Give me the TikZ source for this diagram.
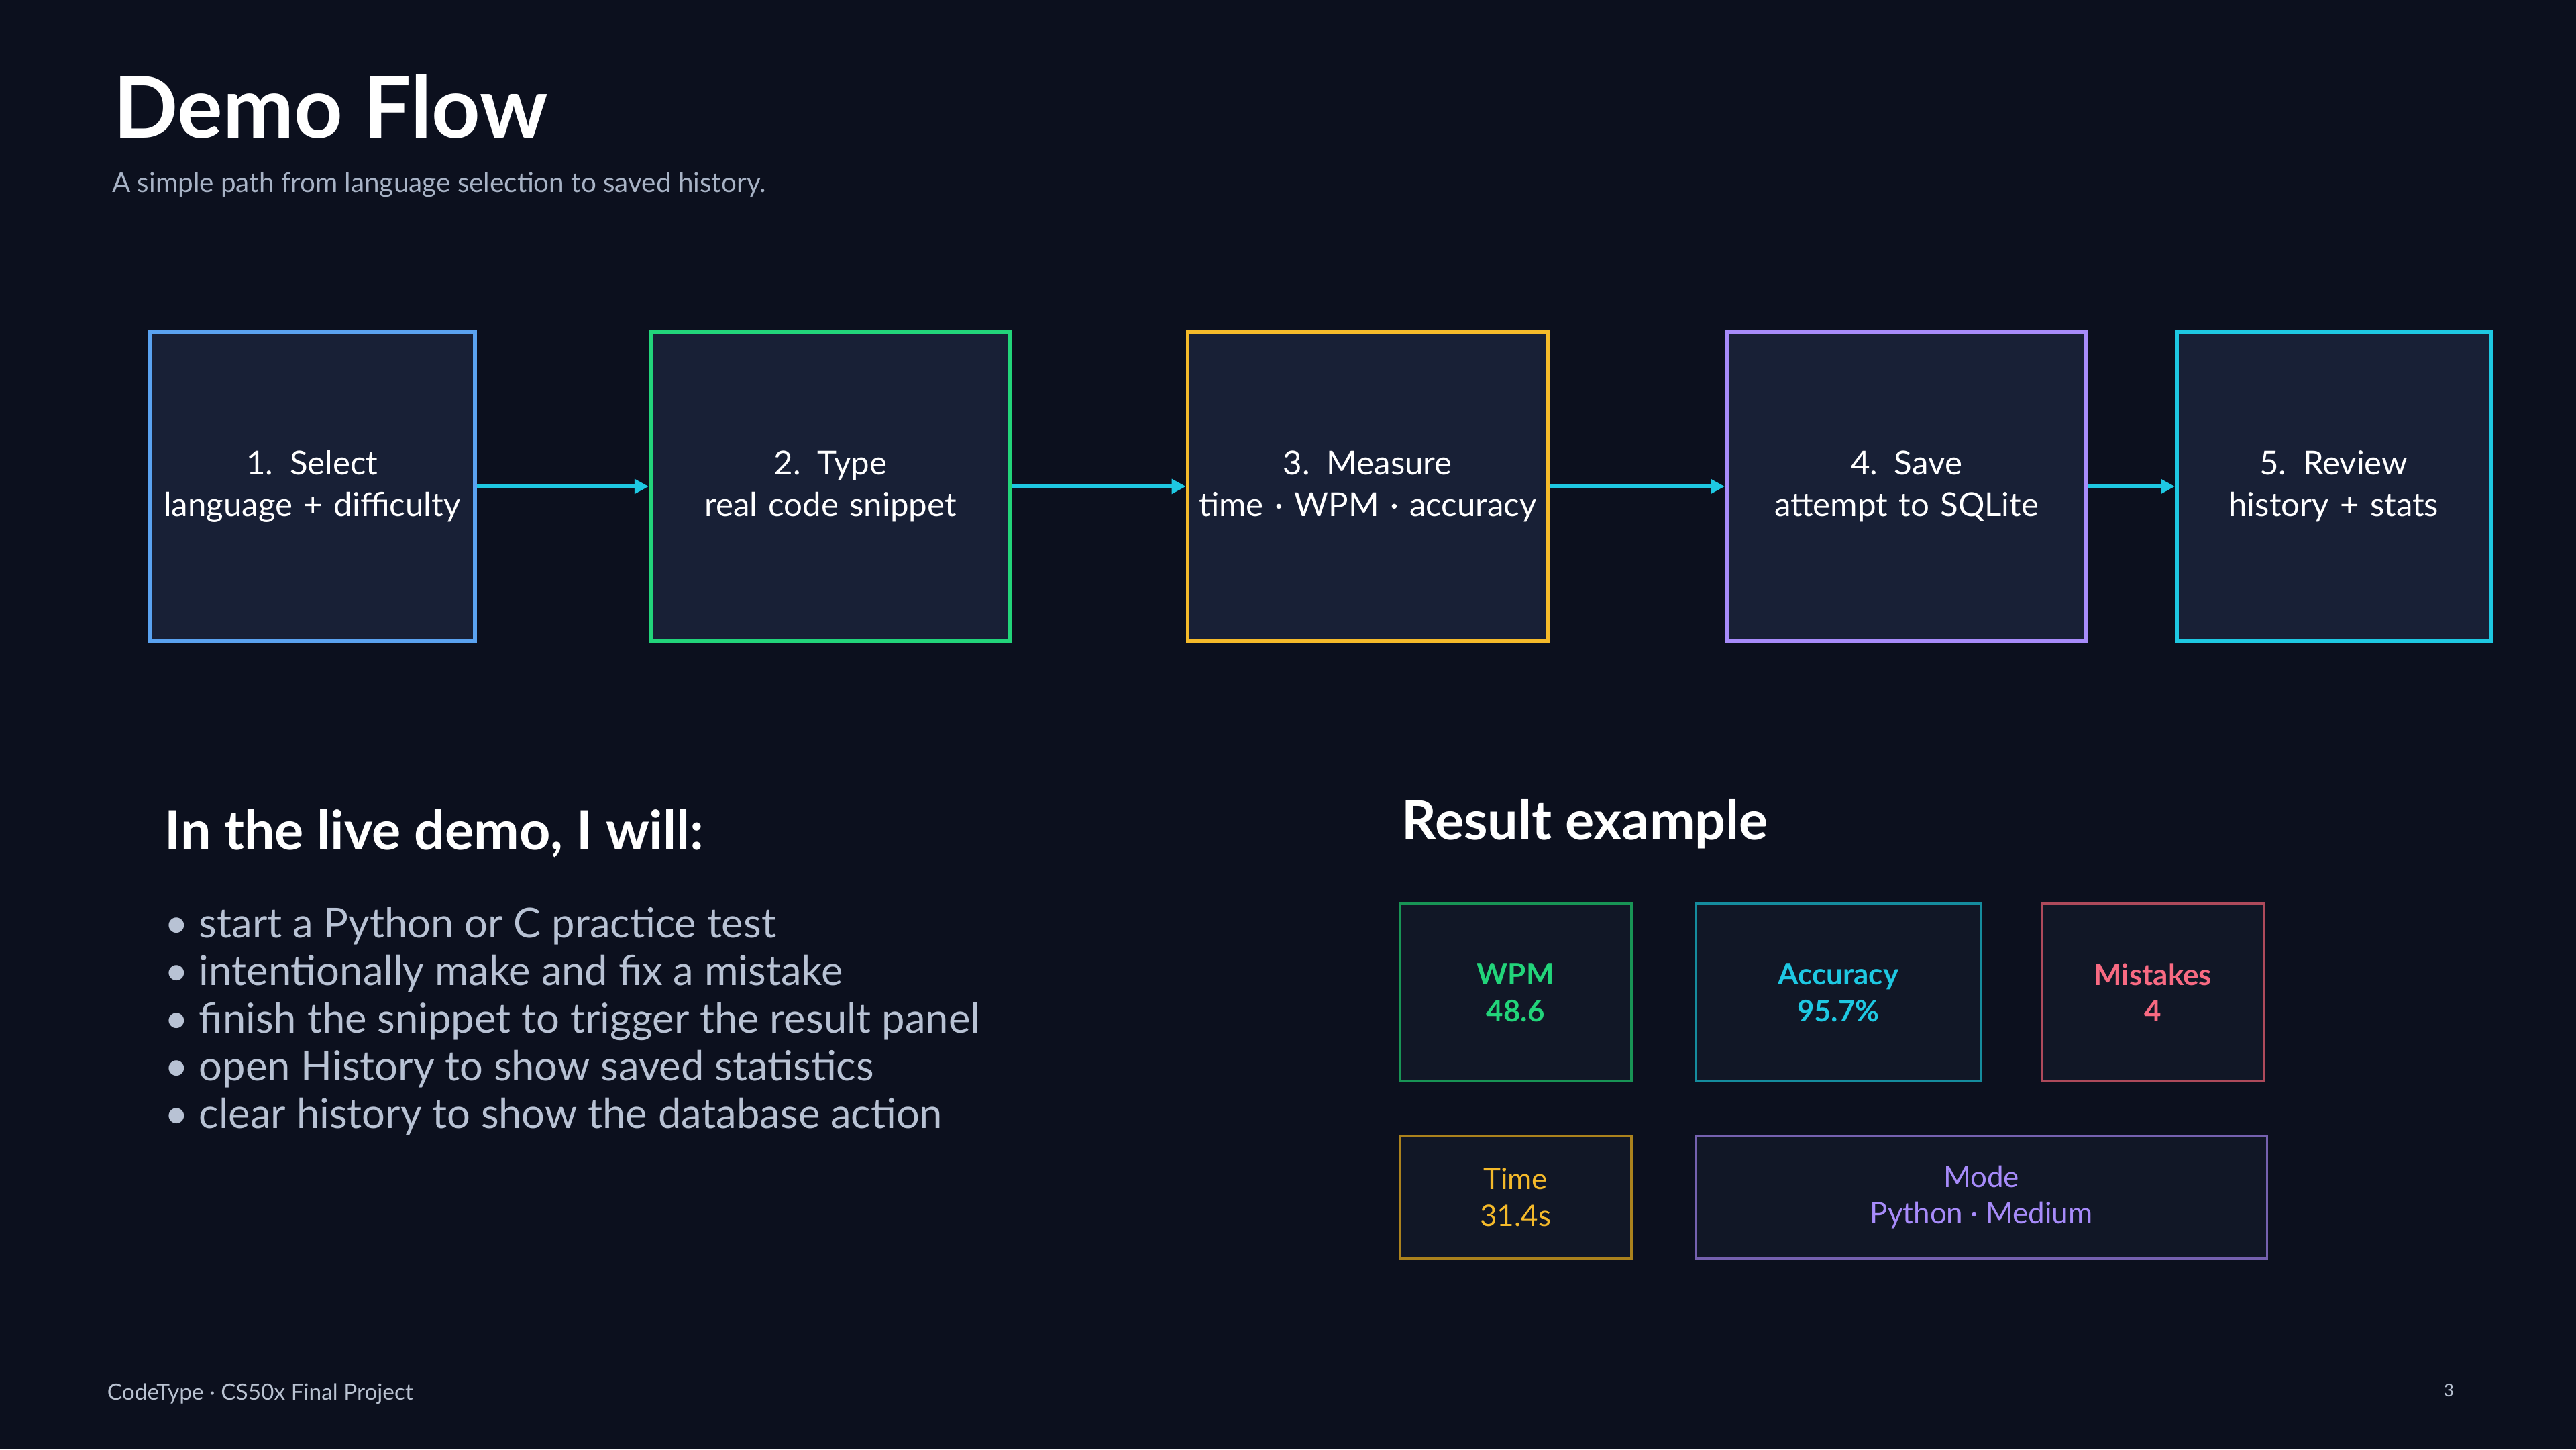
\documentclass[tikz,border=0pt]{standalone}
\usepackage{fontspec}
\setmainfont{Lato}
\usetikzlibrary{arrows.meta,positioning}
\definecolor{bgc}{HTML}{0C101E}
\definecolor{boxfill}{HTML}{182036}
\definecolor{statfill}{HTML}{111726}
\definecolor{cblue}{HTML}{5AA2F0}
\definecolor{cgreen}{HTML}{22D47A}
\definecolor{cyellow}{HTML}{F5BA2A}
\definecolor{cpurple}{HTML}{A78BFA}
\definecolor{ccyan}{HTML}{1EC8E2}
\definecolor{cred}{HTML}{F86A82}
\definecolor{greytxt}{HTML}{A8B3C6}
\definecolor{bullettxt}{HTML}{B8C2D4}
\begin{document}
\begin{tikzpicture}[x=0.2449mm, y=-0.2449mm,
    step/.style={draw=#1, line width=1.6pt, fill=boxfill, text=white, align=center,
      font=\fontsize{14}{17.5}\selectfont, inner sep=0pt},
    stat/.style={draw=#1!70!black, line width=1pt, fill=statfill, text=#1, align=center,
      font=\fontsize{12.5}{15.5}\selectfont, inner sep=0pt},
    flow/.style={-{Triangle[length=6pt,width=6pt]}, ccyan, line width=1.6pt}]
  \fill[bgc] (0,0) rectangle (1568,882);
  \node[anchor=base west, text=white, font=\fontsize{36}{40}\selectfont\bfseries] (title) at (64,84) {Demo Flow};
  \node[anchor=base west, text=greytxt, font=\fontsize{11.5}{14}\selectfont, inner sep=0pt] (sub) at (68,117) {A simple path from language selection to saved history.};

  % flow steps
  \node[step=cblue, minimum width=198\pgflinewidth, text width=190*0.2449mm, minimum width=198*0.2449mm, minimum height=188*0.2449mm] (s1) at (190,296) {1. Select\\language + difficulty};
  \node[step=cgreen, text width=210*0.2449mm, minimum width=219*0.2449mm, minimum height=188*0.2449mm] (s2) at (505.5,296) {2. Type\\real code snippet};
  \node[step=cyellow, text width=215*0.2449mm, minimum width=219*0.2449mm, minimum height=188*0.2449mm] (s3) at (832.5,296) {3. Measure\\time · WPM · accuracy};
  \node[step=cpurple, text width=210*0.2449mm, minimum width=219*0.2449mm, minimum height=188*0.2449mm] (s4) at (1160.5,296) {4. Save\\attempt to SQLite};
  \node[step=ccyan, text width=185*0.2449mm, minimum width=191*0.2449mm, minimum height=188*0.2449mm] (s5) at (1420.5,296) {5. Review\\history + stats};
  \foreach \a/\b in {s1/s2, s2/s3, s3/s4, s4/s5}
    \draw[flow] (\a) -- (\b);

  % live demo
  \node[anchor=base west, text=white, font=\fontsize{23}{27}\selectfont\bfseries, inner sep=0pt] (demo) at (100,517) {In the live demo, I will:};
  \node[anchor=north west, text=bullettxt, align=left, inner sep=0pt,
    font=\fontsize{17.5}{20.2}\selectfont] (list) at (100,552) {%
    • start a Python or C practice test\\
    • intentionally make and fix a mistake\\
    • finish the snippet to trigger the result panel\\
    • open History to show saved statistics\\
    • clear history to show the database action};

  % result example
  \node[anchor=base west, text=white, font=\fontsize{23}{27}\selectfont\bfseries, inner sep=0pt] (res) at (853,511) {Result example};
  \node[stat=cgreen, font=\fontsize{12.5}{15.5}\selectfont\bfseries, minimum width=141*0.2449mm, minimum height=108*0.2449mm] (wpm) at (922.5,604) {WPM\\48.6};
  \node[stat=ccyan, font=\fontsize{12.5}{15.5}\selectfont\bfseries, minimum width=174*0.2449mm, minimum height=108*0.2449mm] (acc) at (1119,604) {Accuracy\\95.7\%};
  \node[stat=cred, font=\fontsize{12.5}{15.5}\selectfont\bfseries, minimum width=135*0.2449mm, minimum height=108*0.2449mm] (mis) at (1310.5,604) {Mistakes\\4};
  \node[stat=cyellow, minimum width=141*0.2449mm, minimum height=75*0.2449mm] (time) at (922.5,728.5) {Time\\31.4s};
  \node[stat=cpurple, minimum width=348*0.2449mm, minimum height=75*0.2449mm] (mode) at (1206,728.5) {Mode\\Python · Medium};

  % footer
  \node[anchor=base west, text=greytxt!80, font=\fontsize{9.5}{11}\selectfont, inner sep=0pt] (foot) at (65,852) {CodeType · CS50x Final Project};
  \node[anchor=base east, text=greytxt!80, font=\fontsize{7.5}{9}\selectfont, inner sep=0pt] (page) at (1494,850) {3};
\end{tikzpicture}
\end{document}
